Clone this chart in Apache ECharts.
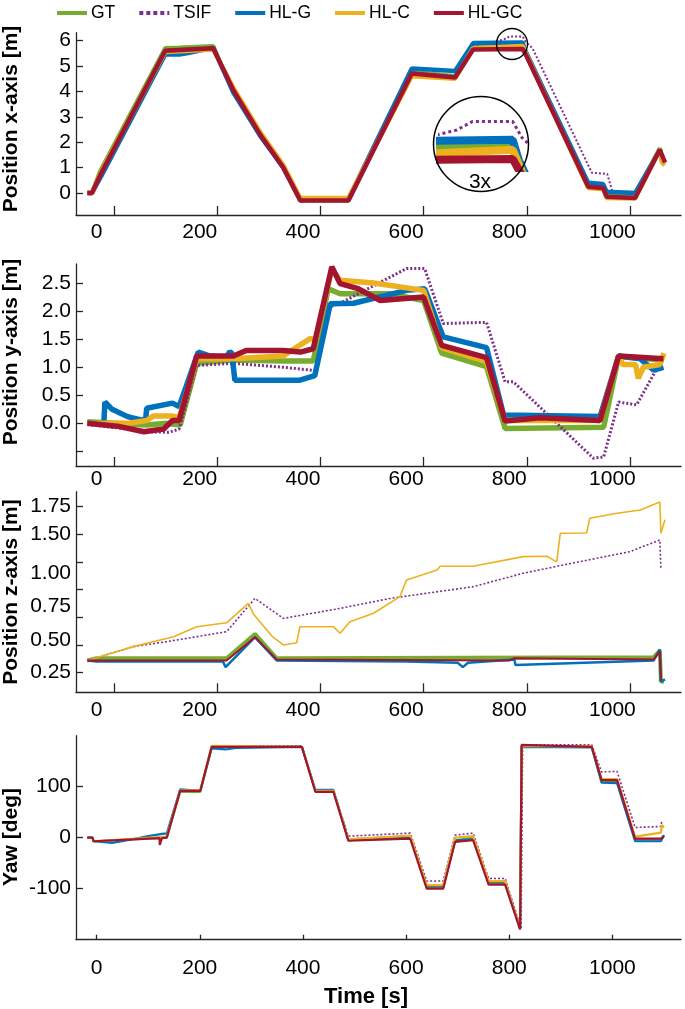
<!DOCTYPE html>
<html>
<head>
<meta charset="utf-8">
<script src="https://cdn.jsdelivr.net/npm/echarts@6/dist/echarts.min.js"></script>
<style>
html,body{margin:0;padding:0;background:#fff;}
#chart{width:685px;height:1009px;}
</style>
</head>
<body>
<div id="chart"></div>
<script>
// ---------------- DATA ----------------
const seriesNames = ['GT', 'TSIF', 'HL-G', 'HL-C', 'HL-GC'];

// x tick labels (time, s) and tick-mark values for the upper panels
const timeTickLabels = [0, 200, 400, 600, 800, 1000];
const upperTickMarks = [34, 234, 434, 634, 834, 1034];

// Panel 1: Position x-axis [m]  ([time, value])
const posX_GT = [[-18,0],[-9,0],[7,0.85],[133,5.70],[160,5.72],[226,5.78],[240,5.1],[265,4.1],[317,2.3],[362,1.0],[395,-0.3],[440,-0.28],[488,-0.3],[611,4.78],[650,4.68],[695,4.6],[730,5.82],[800,5.84],[826,5.84],[832,5.5],[953,0.3],[982,0.3],[989,-0.1],[1044,-0.12],[1092,1.76],[1096,1.35],[1102,1.25]];
const posX_TSIF = [[-18,0],[-9,0],[8,0.8],[133,5.65],[226,5.72],[265,4.1],[317,2.35],[362,1.05],[395,-0.3],[488,-0.32],[611,4.75],[695,4.6],[730,5.8],[770,5.95],[790,6.05],[800,6.16],[826,6.16],[832,5.95],[845,5.7],[960,0.8],[990,0.75],[1000,0.05],[1044,0.05],[1092,1.65],[1096,1.6]];
const posX_HLG = [[-18,0],[-9,0],[10,0.7],[133,5.45],[160,5.45],[175,5.5],[226,5.72],[265,3.95],[317,2.25],[362,1.0],[395,-0.25],[488,-0.25],[611,4.9],[695,4.8],[730,5.9],[826,5.92],[830,5.65],[953,0.4],[982,0.35],[989,0.05],[1044,0.0],[1092,1.7],[1096,1.3],[1102,1.2]];
const posX_HLC = [[-18,0],[-9,0],[8,0.8],[133,5.55],[200,5.62],[226,5.65],[265,4.15],[317,2.4],[362,1.1],[395,-0.2],[488,-0.2],[611,4.6],[695,4.5],[730,5.7],[826,5.79],[832,5.5],[953,0.2],[982,0.15],[989,-0.2],[1044,-0.22],[1092,1.7],[1096,1.2],[1102,1.1]];
const posX_HLGC = [[-18,0],[-9,0],[8,0.75],[133,5.6],[226,5.7],[265,4.05],[317,2.3],[362,1.0],[395,-0.3],[488,-0.3],[611,4.7],[695,4.55],[730,5.65],[826,5.67],[832,5.45],[953,0.25],[982,0.2],[989,-0.15],[1044,-0.2],[1092,1.7],[1102,1.2]];

// Panel 2: Position y-axis [m]
const posY_GT = [[-18,0.03],[97,-0.03],[136,0.0],[162,-0.03],[194,1.07],[264,1.13],[362,1.11],[420,1.11],[449,2.40],[472,2.31],[569,2.31],[634,2.19],[669,1.25],[756,1.01],[792,-0.09],[983,-0.07],[1012,1.19],[1099,1.13]];
const posY_TSIF = [[-18,-0.02],[40,-0.08],[100,-0.15],[140,-0.16],[160,-0.1],[194,1.03],[264,1.07],[362,1.0],[423,0.94],[453,2.08],[472,2.14],[601,2.76],[636,2.76],[672,1.78],[756,1.8],[792,0.74],[808,0.74],[963,-0.62],[983,-0.6],[1012,0.38],[1047,0.33],[1092,1.07]];
const posY_HLG = [[-18,0.0],[14,0.0],[16,0.38],[30,0.25],[60,0.12],[86,0.06],[95,0.07],[97,0.27],[147,0.36],[160,0.3],[197,1.27],[220,1.2],[252,1.18],[258,1.28],[262,1.25],[268,0.77],[394,0.77],[423,0.85],[453,2.13],[498,2.14],[601,2.37],[636,2.4],[672,1.54],[756,1.35],[789,0.15],[976,0.12],[1012,1.2],[1054,1.15],[1080,0.95],[1099,1.0]];
const posY_HLC = [[-18,0.0],[60,0.0],[97,0.05],[110,0.13],[147,0.13],[160,0.1],[194,1.15],[265,1.15],[362,1.2],[395,1.4],[414,1.51],[425,1.5],[456,2.75],[472,2.55],[537,2.5],[634,2.37],[669,1.35],[756,1.1],[792,0.05],[976,0.05],[1012,1.2],[1020,1.05],[1045,1.05],[1050,0.8],[1060,1.0],[1092,1.05],[1100,1.25]];
const posY_HLGC = [[-18,0.0],[40,-0.05],[92,-0.15],[130,-0.1],[147,0.05],[160,0.05],[194,1.2],[265,1.2],[290,1.3],[362,1.3],[395,1.27],[420,1.33],[456,2.79],[472,2.49],[507,2.4],[550,2.19],[634,2.25],[669,1.39],[756,1.17],[792,0.04],[860,0.1],[976,0.05],[1012,1.2],[1099,1.15]];

// Panel 3: Position z-axis [m]
const posZ_GT = [[-18,0.36],[0,0.38],[252,0.38],[307,0.6],[349,0.38],[1080,0.39],[1092,0.45],[1094,0.17],[1100,0.17]];
const posZ_TSIF = [[-18,0.36],[71,0.485],[136,0.53],[252,0.62],[307,0.92],[362,0.74],[472,0.83],[569,0.92],[730,1.026],[827,1.147],[924,1.24],[1034,1.342],[1092,1.448],[1094,1.19]];
const posZ_HLG = [[-18,0.36],[0,0.35],[245,0.35],[250,0.3],[307,0.57],[349,0.36],[600,0.35],[700,0.34],[710,0.3],[720,0.34],[810,0.37],[812,0.32],[1080,0.36],[1092,0.46],[1094,0.17],[1102,0.19]];
const posZ_HLC = [[-18,0.36],[71,0.485],[149,0.575],[194,0.665],[252,0.70],[294,0.876],[304,0.78],[341,0.575],[362,0.50],[388,0.52],[394,0.665],[459,0.665],[472,0.606],[491,0.71],[537,0.786],[588,0.936],[601,1.087],[660,1.177],[666,1.21],[730,1.21],[827,1.297],[873,1.30],[892,1.25],[899,1.508],[950,1.51],[956,1.643],[1009,1.688],[1054,1.718],[1092,1.79],[1094,1.508],[1102,1.63]];
const posZ_HLGC = [[-18,0.36],[0,0.36],[252,0.36],[307,0.57],[349,0.37],[800,0.36],[810,0.38],[1080,0.37],[1092,0.44],[1094,0.18]];

// Panel 4: Yaw [deg]
const yaw_GT = [[-18,0],[-8,0],[-6,-7],[40,-5],[100,-2],[136,0],[162,90],[201,90],[223,178],[398,178],[424,92],[459,92],[488,-3],[608,3],[640,-97],[672,-97],[695,-5],[730,0],[760,-89],[792,-89],[821,-178],[824,180],[960,178],[979,112],[1009,110],[1044,-4],[1094,-4],[1100,5]];
const yaw_TSIF = [[-18,0],[-8,0],[-6,-7],[136,1],[162,92],[201,92],[223,180],[398,180],[424,93],[459,93],[488,3],[608,9],[640,-85],[672,-85],[695,5],[730,9],[760,-80],[792,-80],[823,-178],[826,182],[960,182],[979,129],[1009,130],[1044,20],[1094,22],[1096,35]];
const yaw_HLG = [[-18,0],[-8,0],[-6,-7],[30,-10],[60,-5],[100,3],[130,8],[136,8],[162,95],[201,92],[223,175],[250,173],[270,176],[398,178],[424,94],[459,94],[488,-5],[608,2],[640,-95],[672,-95],[695,-5],[730,-3],[760,-87],[792,-87],[821,-178],[824,178],[960,177],[979,108],[1009,107],[1044,-7],[1094,-7],[1100,5]];
const yaw_HLC = [[-18,0],[-8,0],[-6,-7],[136,2],[162,93],[201,93],[223,180],[398,178],[424,92],[459,92],[488,-3],[608,4],[640,-93],[672,-93],[695,0],[730,3],[760,-85],[792,-85],[821,-178],[824,180],[960,179],[979,115],[1009,115],[1044,2],[1094,10],[1096,25],[1100,20]];
const yaw_HLGC = [[-18,0],[-8,0],[-6,-7],[122,-1],[122.5,-14],[126,-14],[126.5,-1],[136,0],[162,92],[201,92],[223,178],[398,178],[424,90],[459,90],[488,-6],[608,-2],[640,-100],[672,-100],[695,-8],[730,-5],[760,-92],[792,-92],[821,-180],[824,182],[960,178],[979,113],[1009,113],[1044,-2],[1094,-2],[1100,3]];

// y tick values / labels
const xTickVals = [0, 1, 2, 3, 4, 5, 6];
const xTickLabels = ['0', '1', '2', '3', '4', '5', '6'];
const yTickVals = [-0.5, 0, 0.5, 1.0, 1.5, 2.0, 2.5];
const yTickLabels = ['', '0.0', '0.5', '1.0', '1.5', '2.0', '2.5'];
const zTickVals = [0.25, 0.5, 0.75, 1.0, 1.25, 1.5, 1.75];
const zLabelVals = [0.25, 0.545, 0.846, 1.147, 1.5, 1.75];
const zTickLabels = ['0.25', '0.50', '0.75', '1.00', '1.50', '1.75'];
const yawTickVals = [-100, 0, 100];
const yawTickLabels = ['-100', '0', '100'];

// ---------------- CHART ----------------
const colors = {'GT':'#77AC30','TSIF':'#7E2F8E','HL-G':'#0072BD','HL-C':'#EDB120','HL-GC':'#A2142F'};
const FONT = "'Liberation Sans', Arial, Helvetica, sans-serif";
const axisColor = '#262626';

const panels = [
  {data:{'GT':posX_GT,'TSIF':posX_TSIF,'HL-G':posX_HLG,'HL-C':posX_HLC,'HL-GC':posX_HLGC},
   widths:{'GT':4.5,'TSIF':2,'HL-G':4.5,'HL-C':4.5,'HL-GC':4.5}},
  {data:{'GT':posY_GT,'TSIF':posY_TSIF,'HL-G':posY_HLG,'HL-C':posY_HLC,'HL-GC':posY_HLGC},
   widths:{'GT':5.5,'TSIF':3,'HL-G':5.5,'HL-C':5.5,'HL-GC':5.5}},
  {data:{'GT':posZ_GT,'TSIF':posZ_TSIF,'HL-G':posZ_HLG,'HL-C':posZ_HLC,'HL-GC':posZ_HLGC},
   widths:{'GT':4,'TSIF':1.6,'HL-G':2.5,'HL-C':1.6,'HL-GC':2}},
  {data:{'GT':yaw_GT,'TSIF':yaw_TSIF,'HL-G':yaw_HLG,'HL-C':yaw_HLC,'HL-GC':yaw_HLGC},
   widths:{'GT':2.2,'TSIF':1.6,'HL-G':2.2,'HL-C':2.2,'HL-GC':2.2}}
];

const grids = [
  {left:76, right:4, top:32.7, height:182.3},
  {left:76, right:4, top:264, height:202},
  {left:76, right:4, top:491.7, height:200.6},
  {left:76, right:4, top:735.7, height:204},
  {left:440, top:115, width:86, height:53}   // inset (3x)
];

function xAxisFor(i, shifted, margin, tickLen) {
  return {
    gridIndex:i, type:'value', min:-40, max:1133,
    axisLine:{show:true, onZero:false, lineStyle:{color:axisColor, width:1.3}},
    axisTick:{show:true, inside:true, length:tickLen, customValues: shifted ? upperTickMarks : timeTickLabels,
              lineStyle:{color:axisColor, width:1.3}},
    axisLabel:{show:true, customValues:timeTickLabels, fontSize:21, fontFamily:FONT, color:'#000', margin:margin,
               formatter:function(v){ return String(v); }},
    splitLine:{show:false}
  };
}
function yAxisFor(i, min, max, tickVals, labelVals, labels) {
  return {
    gridIndex:i, type:'value', min:min, max:max,
    axisLine:{show:true, onZero:false, lineStyle:{color:axisColor, width:1.3}},
    axisTick:{show:true, inside:true, length:7, customValues:tickVals, lineStyle:{color:axisColor, width:1.3}},
    axisLabel:{show:true, customValues:labelVals, fontSize:21, fontFamily:FONT, color:'#000', margin:5,
      formatter:function(v){ const k = labelVals.findIndex(function(a){return Math.abs(a-v)<1e-6;}); return k>=0 ? labels[k] : ''; }},
    splitLine:{show:false}
  };
}

const xAxes = [
  xAxisFor(0, true, 7, 9),
  xAxisFor(1, true, 3, 9),
  xAxisFor(2, true, 7, 9),
  xAxisFor(3, false, 18, 5),
  {gridIndex:4, type:'value', min:779.1, max:834.6, show:false}
];
const yAxes = [
  yAxisFor(0, -0.866, 6.31, xTickVals, xTickVals, xTickLabels),
  yAxisFor(1, -0.76, 2.84, yTickVals, yTickVals, yTickLabels),
  yAxisFor(2, 0.073, 1.883, zTickVals, zLabelVals, zTickLabels),
  yAxisFor(3, -200, 200, yawTickVals, yawTickVals, yawTickLabels),
  {gridIndex:4, type:'value', min:5.551, max:6.246, show:false}
];

const series = [];
panels.forEach(function(p, i){
  seriesNames.forEach(function(name){
    series.push({
      name:name, type:'line', xAxisIndex:i, yAxisIndex:i, data:p.data[name],
      showSymbol:false, symbol:'none', animation:false, z:2,
      lineStyle:{color:colors[name], width:p.widths[name], type: name==='TSIF' ? [2,2] : 'solid'},
      itemStyle:{color:colors[name]}
    });
  });
});
// inset: magnified view of panel 1 data
seriesNames.forEach(function(name){
  series.push({
    name:name, type:'line', xAxisIndex:4, yAxisIndex:4, data:panels[0].data[name],
    showSymbol:false, symbol:'none', animation:false, z:20, clip:true,
    lineStyle:{color:colors[name], width: name==='TSIF' ? 3 : 8, type: name==='TSIF' ? [3,3] : 'solid'},
    itemStyle:{color:colors[name]}
  });
});

function vtext(x, y, txt) {
  return {type:'text', x:x, y:y, rotation:Math.PI/2, z:50,
    style:{text:txt, font:'bold 21px ' + FONT, fill:'#000', textAlign:'center', textVerticalAlign:'middle', align:'center', verticalAlign:'middle'}};
}

const option = {
  backgroundColor:'#fff',
  animation:false,
  legend:{
    data: seriesNames.map(function(n){ return {name:n, lineStyle:{width:4, type: n==='TSIF' ? [4,3] : 'solid'}}; }),
    left:50, top:0, padding:[4,5,4,5], itemWidth:30, itemHeight:14, itemGap:22,
    itemStyle:{opacity:0},
    lineStyle:{width:4},
    textStyle:{fontSize:17.5, fontFamily:FONT, color:'#000', padding:[0,0,0,-1]},
    selectedMode:false
  },
  grid: grids,
  xAxis: xAxes,
  yAxis: yAxes,
  series: series,
  graphic:[
    vtext(11, 119, 'Position x-axis [m]'),
    vtext(11, 352, 'Position y-axis [m]'),
    vtext(11, 592, 'Position z-axis [m]'),
    vtext(11, 837, 'Yaw [deg]'),
    {type:'text', x:366, y:997, z:50, style:{text:'Time [s]', font:'bold 22px ' + FONT, fill:'#000', textAlign:'center', textVerticalAlign:'middle', align:'center', verticalAlign:'middle'}},
    {type:'circle', z:10, shape:{cx:481, cy:144, r:47.5}, style:{fill:'#fff', stroke:null}},
    {type:'circle', z:30, shape:{cx:481, cy:144, r:47.5}, style:{fill:'none', stroke:'#000', lineWidth:1.5}},
    {type:'circle', z:30, shape:{cx:512, cy:44, r:15.5}, style:{fill:'none', stroke:'#000', lineWidth:1.3}},
    {type:'text', x:480, y:182, z:50, style:{text:'3x', font:'21px ' + FONT, fill:'#000', textAlign:'center', textVerticalAlign:'middle', align:'center', verticalAlign:'middle'}}
  ]
};

const chart = echarts.init(document.getElementById('chart'), null, {renderer:'canvas'});
chart.setOption(option);
</script>
</body>
</html>
